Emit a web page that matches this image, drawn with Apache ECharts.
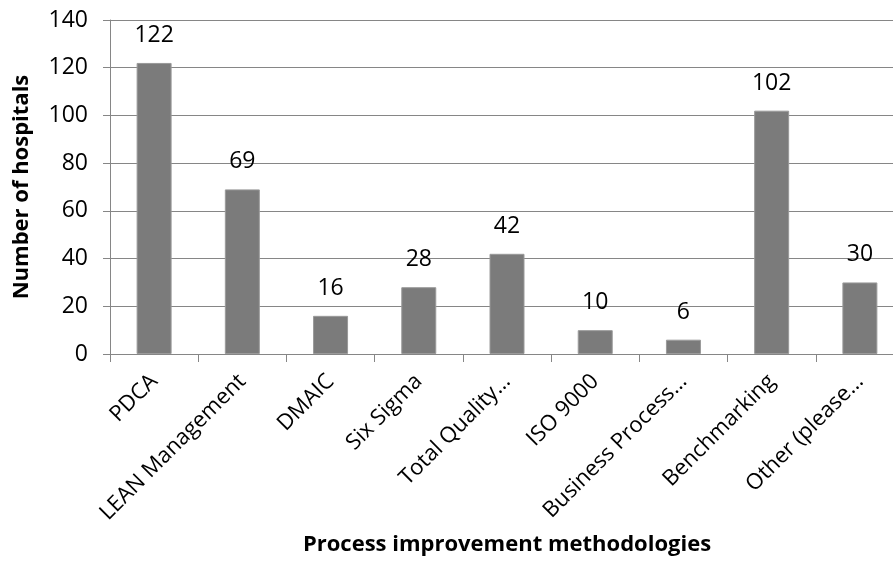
<!DOCTYPE html>
<html>
<head>
<meta charset="utf-8">
<script src="https://cdn.jsdelivr.net/npm/echarts@6/dist/echarts.min.js"></script>
<style>
  html, body { margin: 0; padding: 0; background: #fff; }
  #chart { width: 893px; height: 561px; }
</style>
</head>
<body>
<div id="chart"></div>
<script>
// Methodologies reported and how many hospitals use each
const categories = [
  'PDCA',
  'LEAN Management',
  'DMAIC',
  'Six Sigma',
  'Total Quality…',
  'ISO 9000',
  'Business Process…',
  'Benchmarking',
  'Other (please…'
];
const hospitals = [122, 69, 16, 28, 42, 10, 6, 102, 30];
const yTicks = { min: 0, max: 140, interval: 20 };

const FONT = '"Open Sans", "Liberation Sans", sans-serif';
const GREY = '#868686';

const chart = echarts.init(document.getElementById('chart'), null, { renderer: 'canvas' });
chart.setOption({
  animation: false,
  grid: {
    left: 110, top: 20, width: 794, height: 334,
    containLabel: false,
    outerBoundsMode: 'none'
  },
  xAxis: {
    type: 'category',
    data: categories,
    name: 'Process improvement methodologies',
    nameLocation: 'middle',
    nameGap: 180,
    nameTextStyle: { fontFamily: FONT, fontWeight: 'bold', fontSize: 22, color: '#000' },
    axisLine: { lineStyle: { color: GREY, width: 1 } },
    axisTick: { show: true, length: 8, alignWithLabel: false, lineStyle: { color: GREY } },
    axisLabel: {
      rotate: 45,
      interval: 0,
      margin: 24,
      fontFamily: FONT,
      fontSize: 22,
      color: '#000'
    }
  },
  yAxis: {
    type: 'value',
    min: yTicks.min,
    max: yTicks.max,
    interval: yTicks.interval,
    name: 'Number of hospitals',
    nameLocation: 'middle',
    nameGap: 77,
    nameTextStyle: { fontFamily: FONT, fontWeight: 'bold', fontSize: 22, color: '#000' },
    axisLine: { show: true, lineStyle: { color: GREY, width: 1 } },
    axisTick: { show: true, length: 7, lineStyle: { color: GREY } },
    axisLabel: { margin: 22, fontFamily: FONT, fontSize: 23, color: '#000' },
    splitLine: { show: true, lineStyle: { color: GREY, width: 1 } }
  },
  series: [{
    type: 'bar',
    data: hospitals,
    barWidth: 35,
    itemStyle: { color: '#7b7b7b', borderColor: '#9a9a9a', borderWidth: 1 },
    label: {
      show: true,
      position: 'top',
      distance: 16,
      fontFamily: FONT,
      fontSize: 23,
      color: '#000'
    }
  }]
});
</script>
</body>
</html>
